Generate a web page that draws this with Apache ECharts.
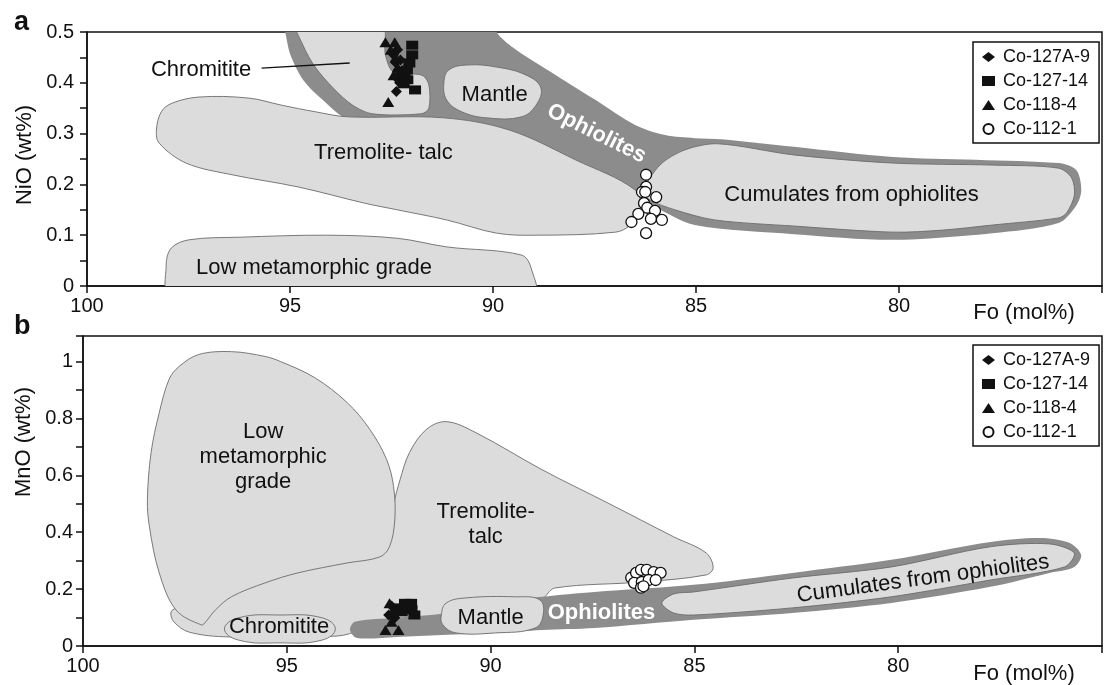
<!DOCTYPE html>
<html><head><meta charset="utf-8">
<script src="https://cdn.jsdelivr.net/npm/echarts@6/dist/echarts.min.js"></script>
<style>html,body{margin:0;padding:0;background:#fff}#c{width:1105px;height:685px}</style>
</head><body><div id="c"></div>
<script>
// ---------- Legend / series names ----------
const seriesNames = ['Co-127A-9', 'Co-127-14', 'Co-118-4', 'Co-112-1'];
const seriesSymbols = ['diamond', 'rect', 'triangle', 'circle'];

// ---------- Panel a : Fo (mol%) vs NiO (wt%) ----------
const diaA = [[92.45,0.455],[92.40,0.44],[92.33,0.425],[92.38,0.41],[92.30,0.40],[92.38,0.383],[92.28,0.445],[92.35,0.465]];
const sqA  = [[91.99,0.474],[91.99,0.455],[92.06,0.439],[92.12,0.425],[92.18,0.415],[92.11,0.406],[92.20,0.398],[91.92,0.386]];
const triA = [[92.65,0.48],[92.42,0.48],[92.58,0.362],[92.52,0.465],[92.40,0.45],[92.35,0.43],[92.45,0.415]];
const cirA = [[86.23,0.219],[86.23,0.195],[86.33,0.185],[86.25,0.185],[85.98,0.175],[86.28,0.163],[86.20,0.154],[86.01,0.148],[86.42,0.142],[86.59,0.126],[86.11,0.132],[85.84,0.130],[86.23,0.104]];

const ophioA = [[95.20,0.520],[95.12,0.500],[94.99,0.455],[94.68,0.406],[94.19,0.366],[93.58,0.329],[91.87,0.317],[89.91,0.297],[87.96,0.232],[86.50,0.173],[86.01,0.155],[85.03,0.120],[82.59,0.102],[80.15,0.091],[77.70,0.104],[76.07,0.124],[75.63,0.159],[75.51,0.189],[75.63,0.228],[76.07,0.242],[80.15,0.254],[82.59,0.274],[84.37,0.289],[85.03,0.291],[85.76,0.297],[86.50,0.317],[87.47,0.366],[88.45,0.415],[89.50,0.469],[89.91,0.500],[89.85,0.520]];
const tremA = [[98.29,0.307],[98.17,0.343],[97.90,0.360],[97.24,0.372],[96.02,0.370],[95.21,0.356],[94.38,0.343],[93.58,0.333],[91.21,0.331],[89.60,0.307],[87.96,0.248],[86.50,0.189],[86.37,0.150],[86.62,0.120],[86.98,0.106],[88.94,0.100],[89.91,0.104],[91.14,0.130],[92.36,0.150],[93.16,0.163],[94.80,0.195],[96.43,0.219],[97.56,0.242],[98.22,0.281]];
const chromA = [[94.85,0.52],[92.75,0.52],[92.65,0.455],[92.45,0.421],[91.75,0.415],[91.58,0.396],[91.58,0.350],[91.77,0.339],[92.97,0.339],[93.46,0.356],[93.94,0.390],[94.38,0.431],[94.68,0.474]];
const mantleA = [[91.21,0.400],[91.09,0.425],[90.65,0.435],[89.91,0.431],[89.18,0.415],[88.82,0.390],[88.94,0.356],[89.30,0.333],[90.16,0.331],[90.77,0.343],[91.14,0.366]];
const cumA = [[86.30,0.185],[85.89,0.238],[85.27,0.268],[84.47,0.280],[82.59,0.258],[80.15,0.242],[77.70,0.238],[76.07,0.232],[75.75,0.213],[75.68,0.179],[75.87,0.144],[76.07,0.134],[77.70,0.120],[78.93,0.110],[80.15,0.106],[82.59,0.118],[84.54,0.130],[85.52,0.150],[86.13,0.169]];
const lowA = [[97.92,-0.02],[98.05,0.041],[97.92,0.075],[97.48,0.091],[96.26,0.096],[94.07,0.100],[92.36,0.094],[91.14,0.077],[89.30,0.061],[89.06,0.035],[89.01,-0.02]];
const leaderA = [[95.70,0.429],[93.53,0.439]];
const labelsA = [[97.19,0.425,'Chromitite'],[89.96,0.376,'Mantle'],[87.45,0.300,'Ophiolites'],[92.70,0.262,'Tremolite- talc'],[81.17,0.179,'Cumulates from ophiolites'],[94.41,0.035,'Low metamorphic grade']];

// ---------- Panel b : Fo (mol%) vs MnO (wt%) ----------
const diaB = [[92.43,0.141],[92.50,0.109],[92.35,0.099],[92.30,0.120]];
const sqB  = [[92.06,0.144],[91.94,0.127],[92.18,0.120],[91.87,0.109],[92.31,0.134],[92.10,0.150],[91.95,0.150]];
const triB = [[92.58,0.056],[92.26,0.056],[92.43,0.085],[92.48,0.150],[92.40,0.120]];
const cirB = [[86.55,0.240],[86.43,0.257],[86.31,0.268],[86.17,0.268],[86.00,0.260],[85.83,0.257],[86.48,0.222],[86.29,0.225],[86.12,0.232],[85.95,0.232],[86.31,0.205],[86.25,0.210]];

const tremB = [[97.84,0.120],[97.65,0.137],[97.16,0.162],[94.73,0.303],[92.60,0.380],[92.40,0.430],[92.37,0.500],[92.22,0.585],[91.99,0.680],[91.58,0.761],[91.09,0.789],[90.36,0.750],[88.74,0.620],[87.14,0.504],[85.51,0.384],[84.71,0.327],[84.54,0.275],[84.71,0.250],[86.31,0.225],[88.42,0.204],[88.67,0.173],[88.79,0.155],[91.09,0.109],[92.31,0.085],[93.16,0.056],[93.76,0.035],[96.43,0.032],[97.40,0.049],[97.77,0.085]];
const lowB = [[97.09,0.074],[97.72,0.127],[98.13,0.257],[98.37,0.419],[98.42,0.514],[98.33,0.680],[98.13,0.820],[97.89,0.937],[97.65,0.982],[97.16,1.025],[96.36,1.035],[95.53,1.018],[95.15,1.0],[94.32,0.944],[93.52,0.856],[92.96,0.761],[92.55,0.655],[92.38,0.560],[92.35,0.444],[92.48,0.349],[92.72,0.313],[93.52,0.292],[94.73,0.257],[95.53,0.222],[96.36,0.173],[96.75,0.127],[96.99,0.085]];
const chromB = [[96.53,0.060],[96.19,0.099],[95.17,0.109],[94.13,0.099],[93.81,0.060],[94.13,0.021],[95.17,0.011],[96.19,0.021]];
const ophioB = [[93.45,0.056],[93.33,0.085],[92.31,0.099],[91.21,0.113],[89.88,0.151],[88.74,0.173],[87.45,0.190],[85.02,0.215],[82.60,0.257],[80.17,0.303],[77.74,0.366],[76.53,0.380],[75.80,0.363],[75.51,0.320],[75.68,0.278],[76.29,0.257],[77.74,0.208],[80.17,0.151],[82.60,0.116],[85.02,0.092],[87.45,0.063],[88.74,0.056],[89.88,0.046],[91.21,0.039],[92.31,0.032],[93.28,0.028]];
const mantleB = [[91.21,0.109],[91.09,0.151],[90.61,0.169],[89.39,0.173],[88.79,0.162],[88.71,0.109],[88.91,0.063],[89.88,0.046],[90.85,0.046],[91.17,0.074]];
const cumB = [[85.80,0.151],[85.51,0.183],[85.02,0.190],[82.60,0.239],[80.17,0.278],[77.74,0.349],[76.29,0.359],[75.68,0.327],[75.92,0.278],[77.74,0.232],[80.17,0.173],[82.60,0.134],[85.02,0.109],[85.51,0.116]];
const labelsB = [[95.58,0.665,'Low\nmetamorphic\ngrade'],[90.12,0.426,'Tremolite-\ntalc'],[95.19,0.067,'Chromitite'],[90.0,0.099,'Mantle'],[87.28,0.116,'Ophiolites'],[79.39,0.236,'Cumulates from ophiolites']];

// ---------- styling ----------
const FONT = '"Liberation Sans", Arial, Helvetica, sans-serif';
const INK = '#111';
const DARK = '#8c8c8c';
const LIGHT = '#dcdcdc';
const EDGE = '#6c6c6c';
const rotA = {'Ophiolites': -26.5};
const rotB = {'Cumulates from ophiolites': 7.7};

function region(idx, pts, fill, stroke, smooth, z) {
  return {
    type: 'custom', xAxisIndex: idx, yAxisIndex: idx, clip: true, silent: true, z: z,
    data: pts,
    renderItem: function (params, api) {
      if (params.dataIndex !== 0) return null;
      return {
        type: 'polygon',
        shape: { points: pts.map(p => api.coord(p)), smooth: smooth },
        style: { fill: fill, stroke: stroke || 'none', lineWidth: stroke ? 0.9 : 0 }
      };
    }
  };
}
function leader(idx, pts) {
  return {
    type: 'custom', xAxisIndex: idx, yAxisIndex: idx, silent: true, z: 4,
    data: pts,
    renderItem: function (params, api) {
      if (params.dataIndex !== 0) return null;
      const a = api.coord(pts[0]), b = api.coord(pts[1]);
      return { type: 'line', shape: { x1: a[0], y1: a[1], x2: b[0], y2: b[1] }, style: { stroke: INK, lineWidth: 1.3 } };
    }
  };
}
function labels(idx, arr, rots) {
  return {
    type: 'custom', xAxisIndex: idx, yAxisIndex: idx, silent: true, z: 6,
    data: arr.map(l => [l[0], l[1]]),
    renderItem: function (params, api) {
      const l = arr[params.dataIndex];
      const c = api.coord([l[0], l[1]]);
      const white = l[2] === 'Ophiolites';
      const r = rots[l[2]] || 0;
      return {
        type: 'text', x: c[0], y: c[1], rotation: r * Math.PI / 180,
        style: {
          text: l[2], fill: white ? '#fff' : INK, fontSize: 22, fontFamily: FONT,
          fontWeight: white ? 'bold' : 'normal', align: 'center', verticalAlign: 'middle', lineHeight: 25
        }
      };
    }
  };
}
function scatter(idx, k, data) {
  const sizes = [[11, 11], [12, 9], [12, 10], 11];
  const open = seriesSymbols[k] === 'circle';
  return {
    name: seriesNames[k], type: 'scatter', xAxisIndex: idx, yAxisIndex: idx, z: 5,
    symbol: seriesSymbols[k], symbolSize: sizes[k], data: data, silent: true,
    itemStyle: open ? { color: '#fff', borderColor: INK, borderWidth: 1.3, opacity: 1 } : { color: INK, opacity: 1 }
  };
}
function xAxis(idx) {
  return {
    gridIndex: idx, type: 'value', inverse: true, min: 75, max: 100, interval: 5,
    axisLine: { show: true, onZero: false, lineStyle: { color: INK, width: 1.5 } },
    axisTick: { show: true, length: 7, lineStyle: { color: INK, width: 1.5 } },
    axisLabel: { fontSize: 20, color: INK, fontFamily: FONT, margin: 10, formatter: v => (v === 75 ? '' : String(v)) },
    splitLine: { show: false }
  };
}
function yAxis(idx, max, interval, labelEvery, margin) {
  return {
    gridIndex: idx, type: 'value', min: 0, max: max, interval: interval,
    axisLine: { show: true, onZero: false, lineStyle: { color: INK, width: 1.5 } },
    axisTick: { show: true, length: 7, lineStyle: { color: INK, width: 1.5 } },
    axisLabel: {
      fontSize: 20, color: INK, fontFamily: FONT, margin: margin, showMaxLabel: true,
      formatter: function (v) {
        const r = Math.round(v / interval);
        if (Math.abs(v / interval - r) > 1e-6) return '';
        if (r % labelEvery !== 0) return '';
        return String(Math.round(v * 100) / 100);
      }
    },
    splitLine: { show: false }
  };
}
function legend(top) {
  return {
    orient: 'vertical', left: 973, top: top, selectedMode: false,
    data: seriesNames.map((n, i) => ({ name: n, icon: seriesSymbols[i] })),
    itemWidth: 13, itemHeight: 10, itemGap: 6, padding: [6, 9, 5, 9],
    borderColor: INK, borderWidth: 1.5, backgroundColor: '#fff',
    textStyle: { fontSize: 18, color: INK, fontFamily: FONT, lineHeight: 18, padding: [0, 0, 0, 3] }
  };
}

const chart = echarts.init(document.getElementById('c'), null, { renderer: 'canvas' });
chart.setOption({
  animation: false,
  backgroundColor: '#fff',
  grid: [
    { left: 87, top: 32, width: 1024, height: 254, show: true, borderColor: INK, borderWidth: 1.5, backgroundColor: 'transparent' },
    { left: 83, top: 336, width: 1030, height: 310, show: true, borderColor: INK, borderWidth: 1.5, backgroundColor: 'transparent' }
  ],
  xAxis: [xAxis(0), xAxis(1)],
  yAxis: [yAxis(0, 0.5, 0.05, 2, 13), yAxis(1, 1.09, 0.1, 2, 10)],
  legend: [legend(42), legend(345)],
  graphic: [
    { type: 'text', x: 14, y: 23, style: { text: 'a', fontSize: 27, fontWeight: 'bold', fontFamily: FONT, fill: INK, verticalAlign: 'middle' } },
    { type: 'text', x: 14, y: 327, style: { text: 'b', fontSize: 27, fontWeight: 'bold', fontFamily: FONT, fill: INK, verticalAlign: 'middle' } },
    { type: 'text', x: 1024, y: 313, style: { text: 'Fo (mol%)', fontSize: 22, fontFamily: FONT, fill: INK, align: 'center', verticalAlign: 'middle' } },
    { type: 'text', x: 1024, y: 674, style: { text: 'Fo (mol%)', fontSize: 22, fontFamily: FONT, fill: INK, align: 'center', verticalAlign: 'middle' } },
    { type: 'text', x: 25, y: 155, rotation: Math.PI / 2, style: { text: 'NiO (wt%)', fontSize: 22, fontFamily: FONT, fill: INK, align: 'center', verticalAlign: 'middle' } },
    { type: 'text', x: 24, y: 442, rotation: Math.PI / 2, style: { text: 'MnO (wt%)', fontSize: 22, fontFamily: FONT, fill: INK, align: 'center', verticalAlign: 'middle' } }
  ],
  series: [
    region(0, ophioA, DARK, null, 0.3, 1),
    region(0, tremA, LIGHT, EDGE, 0.35, 1),
    region(0, chromA, LIGHT, EDGE, 0.3, 1),
    region(0, mantleA, LIGHT, EDGE, 0.4, 1),
    region(0, cumA, LIGHT, EDGE, 0.3, 1),
    region(0, lowA, LIGHT, EDGE, 0.35, 1),
    leader(0, leaderA),
    scatter(0, 0, diaA), scatter(0, 1, sqA), scatter(0, 2, triA), scatter(0, 3, cirA),
    labels(0, labelsA, rotA),

    region(1, tremB, LIGHT, EDGE, 0.35, 1),
    region(1, lowB, LIGHT, EDGE, 0.35, 1),
    region(1, chromB, LIGHT, EDGE, 0.45, 1),
    region(1, ophioB, DARK, null, 0.3, 1),
    region(1, mantleB, LIGHT, EDGE, 0.4, 1),
    region(1, cumB, LIGHT, EDGE, 0.3, 1),
    scatter(1, 0, diaB), scatter(1, 1, sqB), scatter(1, 2, triB), scatter(1, 3, cirB),
    labels(1, labelsB, rotB)
  ]
});
</script></body></html>
